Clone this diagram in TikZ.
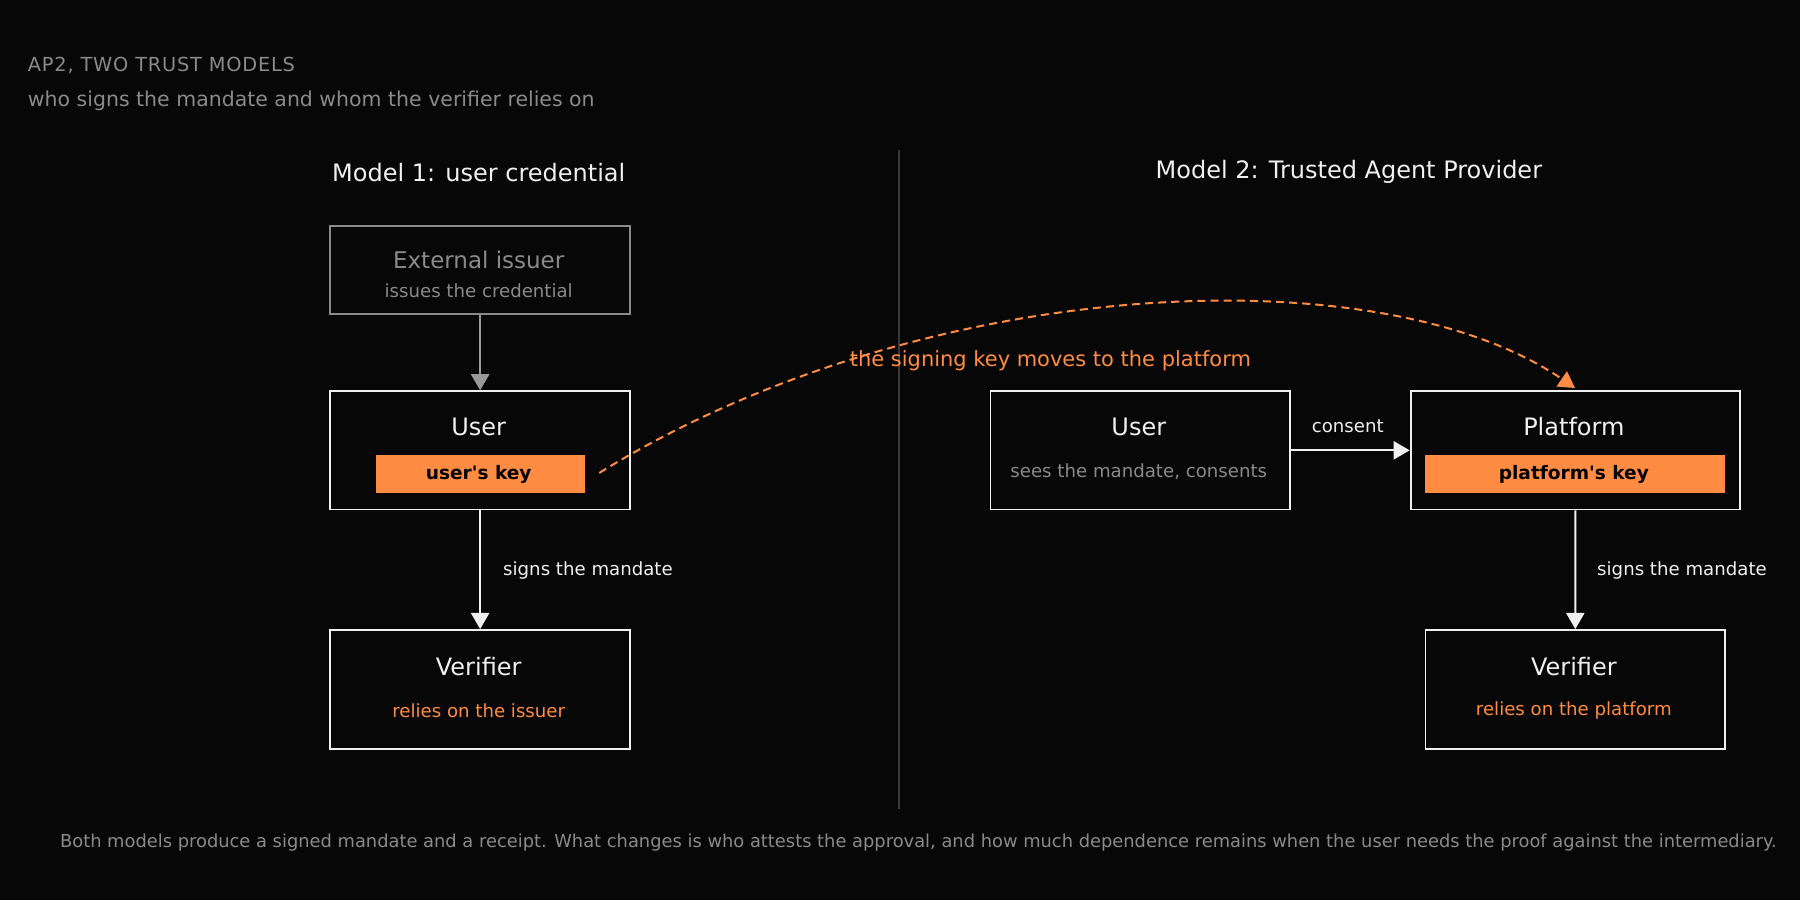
\documentclass[tikz,border=0pt]{standalone}
\usepackage{fontspec}
\setmainfont{DejaVu Sans}
\newfontfamily\spaced[LetterSpace=4]{DejaVu Sans}
\usetikzlibrary{arrows.meta}
\definecolor{bg}{HTML}{070707}
\definecolor{org}{HTML}{FF8C42}
\definecolor{gry}{HTML}{8A8A8A}
\definecolor{wht}{HTML}{F0F0F0}
\begin{document}
\begin{tikzpicture}[x=0.02cm,y=-0.02cm,
  box/.style={draw=wht,line width=0.9pt,fill=bg},
  gbox/.style={draw=gry,line width=0.9pt,fill=bg},
  key/.style={fill=org,draw=none},
  arr/.style={draw=wht,line width=1pt,-{Triangle[length=8pt,width=9pt]}},
  t/.style={inner sep=0pt,text=wht,font=\fontsize{11.9}{14}\selectfont},
  s/.style={inner sep=0pt,text=gry,font=\fontsize{9}{11}\selectfont},
  lab/.style={inner sep=0pt,text=wht,font=\fontsize{9}{11}\selectfont},
  kt/.style={inner sep=0pt,text=black,font=\bfseries\fontsize{9.2}{11}\selectfont}]
\fill[bg] (0,0) rectangle (1568,784);
\useasboundingbox (0,0) rectangle (1568,784);
\node[anchor=base west,inner sep=0pt,text=gry,font=\spaced\fontsize{9.6}{12}\selectfont] (title) at (24,62) {AP2, TWO TRUST MODELS};
\node[anchor=base west,s,font=\fontsize{10.15}{12}\selectfont] (sub) at (24,93) {who signs the mandate and whom the verifier relies on};
\coordinate (d1) at (783,131); \coordinate (d2) at (783,705);
\draw[color=gray!45!black,line width=0.8pt] (d1) -- (d2);
\node[t] (m1) at (417,150) {Model 1: user credential};
\node[t] (m2) at (1175,150) {Model 2: Trusted Agent Provider};
% model 1
\node[gbox,anchor=north west,inner sep=0pt,minimum width=5.22cm,minimum height=1.54cm] (ext) at (287,196) {};
\node[t,text=gry,font=\fontsize{11.4}{13}\selectfont] (extt) at (417,226) {External issuer};
\node[s] (exts) at (417,253) {issues the credential};
\node[box,anchor=north west,inner sep=0pt,minimum width=5.22cm,minimum height=2.06cm] (u1) at (287,340) {};
\node[t] (u1t) at (417,372) {User};
\node[key,anchor=north west,inner sep=0pt,minimum width=3.64cm,minimum height=0.66cm] (k1) at (327,396) {};
\node[kt] (k1t) at (417,413) {user\textquotesingle s key};
\node[box,anchor=north west,inner sep=0pt,minimum width=5.22cm,minimum height=2.08cm] (v1) at (287,548) {};
\node[t] (v1t) at (417,581) {Verifier};
\node[s,text=org] (v1s) at (417,619) {relies on the issuer};
\draw[arr,draw=gray!80!white] (ext.south) -- (u1.north);
\draw[arr] (u1.south) -- (v1.north);
\node[lab,anchor=west] (l1) at (438,497) {signs the mandate};
% model 2
\node[box,anchor=north west,inner sep=0pt,minimum width=5.22cm,minimum height=2.06cm] (u2) at (862,340) {};
\node[t] (u2t) at (992,372) {User};
\node[s] (u2s) at (992,411) {sees the mandate, consents};
\node[box,anchor=north west,inner sep=0pt,minimum width=5.74cm,minimum height=2.06cm] (p) at (1228,340) {};
\node[t] (pt) at (1371,372) {Platform};
\node[key,anchor=north west,inner sep=0pt,minimum width=5.22cm,minimum height=0.66cm] (k2) at (1241,396) {};
\node[kt] (k2t) at (1371,413) {platform\textquotesingle s key};
\node[box,anchor=north west,inner sep=0pt,minimum width=5.22cm,minimum height=2.08cm] (v2) at (1241,548) {};
\node[t] (v2t) at (1371,581) {Verifier};
\node[s,text=org] (v2s) at (1371,619) {relies on the platform};
\draw[arr] (u2.east) -- (p.west);
\node[lab] (cl) at (1174,371) {consent};
\draw[arr] (p.south) -- (v2.north);
\node[lab,anchor=west] (l2) at (1391,497) {signs the mandate};
% dashed move
\coordinate (cs) at (522,412);
\coordinate (ce) at (1372,338);
\draw[org,line width=1pt,dash pattern=on 4pt off 2.5pt,-{Triangle[length=8pt,width=9pt]}] (cs) .. controls (800,240) and (1200,220) .. (ce);
\node[inner sep=0pt,text=org,font=\fontsize{10.4}{12}\selectfont] (ml) at (915,314) {the signing key moves to the platform};
\node[anchor=base west,s,font=\fontsize{8.85}{10}\selectfont] (foot) at (52,738) {Both models produce a signed mandate and a receipt. What changes is who attests the approval, and how much dependence remains when the user needs the proof against the intermediary.};
\end{tikzpicture}
\end{document}
